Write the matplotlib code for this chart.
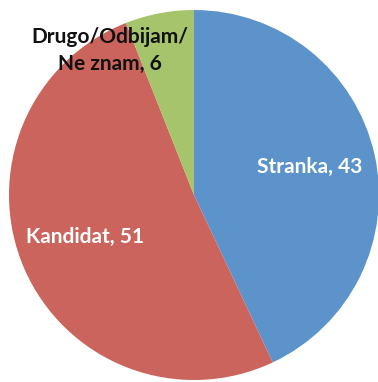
import matplotlib
matplotlib.use("Agg")
import matplotlib.pyplot as plt

categories = ["Stranka", "Kandidat", "Drugo/Odbijam/\nNe znam"]
values = [43, 51, 6]
colors = ["#5B93CA", "#CB645C", "#A5C46B"]
label_colors = ["white", "white", "#111111"]
label_pos = [(0.627, 0.152), (-0.589, -0.225), (-0.454, 0.780)]

fig = plt.figure(figsize=(3.78, 3.82), dpi=100)
ax = fig.add_axes([0, 0, 1, 1])
ax.pie(values, colors=colors, startangle=90, counterclock=False, radius=1.0,
       wedgeprops=dict(linewidth=0))
ax.set_xlim(-194/185, (378-194)/185)
ax.set_ylim(-187/185, 195/185)
ax.set_aspect("auto")
ax.axis("off")

for cat, val, col, (x, y) in zip(categories, values, label_colors, label_pos):
    ax.text(x, y, f"{cat}, {val}", ha="center", va="center", color=col,
            fontsize=15, fontweight="bold", family=["Lato", "DejaVu Sans"],
            linespacing=1.4)

fig.savefig("out.png", dpi=100)
